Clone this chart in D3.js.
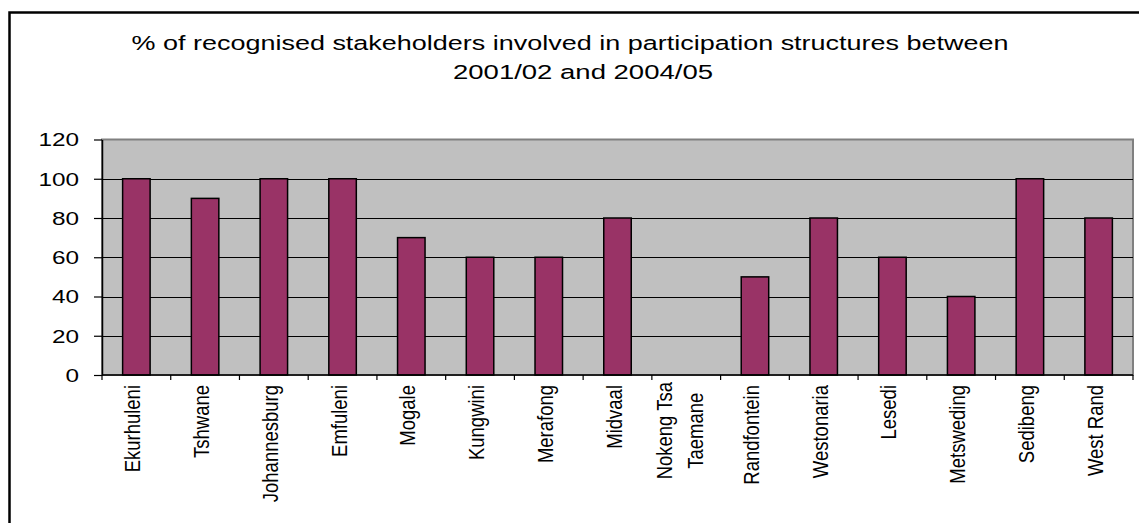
<!DOCTYPE html>
<html>
<head>
<meta charset="utf-8">
<script src="https://cdn.jsdelivr.net/npm/d3@7"></script>
<style>
  html, body { margin: 0; padding: 0; background: #ffffff; }
  svg { display: block; font-family: "Liberation Sans", Arial, sans-serif; }
</style>
</head>
<body>
<svg id="chart" width="1139" height="523"></svg>
<script>
// Municipalities and the share of recognised stakeholders involved (%)
const categories = ["Ekurhuleni", "Tshwane", "Johannesburg", "Emfuleni", "Mogale", "Kungwini",
  "Merafong", "Midvaal", "Nokeng Tsa Taemane", "Randfontein", "Westonaria", "Lesedi",
  "Metsweding", "Sedibeng", "West Rand"];
const values = [100, 90, 100, 100, 70, 60, 60, 80, 0, 50, 80, 60, 40, 100, 80];
const yTicks = [0, 20, 40, 60, 80, 100, 120];
const titleLines = [
  "% of recognised stakeholders involved in participation structures between",
  "2001/02 and 2004/05"
];

const svg = d3.select("#chart");

// Plot area
const plot = { left: 102, right: 1133, top: 139.5, bottom: 375 };

const x = d3.scaleBand()
  .domain(categories)
  .range([plot.left, plot.right])
  .paddingInner(0.6)
  .paddingOuter(0.3);

const y = d3.scaleLinear()
  .domain([0, 120])
  .range([plot.bottom, plot.top]);

// Outer chart frame (runs past the right and bottom edges)
svg.append("rect")
  .attr("x", 9.5).attr("y", 12.5)
  .attr("width", 1160).attr("height", 540)
  .attr("fill", "#ffffff")
  .attr("stroke", "#000000")
  .attr("stroke-width", 2.5);

// Title
const titleLayout = [
  { x: 131.5, y: 49.5, w: 877 },
  { x: 453, y: 78.5, w: 260 }
];
svg.append("g").selectAll("text")
  .data(titleLines)
  .join("text")
  .attr("x", (d, i) => titleLayout[i].x)
  .attr("y", (d, i) => titleLayout[i].y)
  .attr("textLength", (d, i) => titleLayout[i].w)
  .attr("lengthAdjust", "spacingAndGlyphs")
  .attr("font-size", 20.5)
  .attr("fill", "#000000")
  .text(d => d);

// Plot background
svg.append("rect")
  .attr("x", plot.left).attr("y", plot.top)
  .attr("width", plot.right - plot.left)
  .attr("height", plot.bottom - plot.top)
  .attr("fill", "#c0c0c0")
  .attr("stroke", "#808080")
  .attr("stroke-width", 2);

// Horizontal gridlines
svg.append("g").selectAll("line")
  .data(yTicks.filter(v => v > 0 && v < 120))
  .join("line")
  .attr("x1", plot.left).attr("x2", plot.right)
  .attr("y1", d => Math.round(y(d)) + 0.5)
  .attr("y2", d => Math.round(y(d)) + 0.5)
  .attr("stroke", "#000000")
  .attr("stroke-width", 1);

// Bars
svg.append("g").selectAll("rect")
  .data(categories.map((c, i) => ({ c, v: values[i] })).filter(d => d.v > 0))
  .join("rect")
  .attr("x", d => x(d.c))
  .attr("y", d => y(d.v))
  .attr("width", x.bandwidth())
  .attr("height", d => y(0) - y(d.v))
  .attr("fill", "#993366")
  .attr("stroke", "#000000")
  .attr("stroke-width", 1.5);

// Y axis
const yAxis = svg.append("g")
  .attr("transform", `translate(${plot.left},0)`)
  .call(d3.axisLeft(y).tickValues(yTicks).tickSize(8).tickSizeOuter(0));
yAxis.select(".domain").attr("stroke", "#000000").attr("stroke-width", 1.5);
yAxis.selectAll(".tick line").attr("stroke", "#000000").attr("stroke-width", 1.2);
yAxis.selectAll(".tick text")
  .attr("x", 0)
  .attr("dy", "0.36em")
  .attr("font-size", 17.5)
  .attr("font-family", "'Liberation Sans', Arial, sans-serif")
  .attr("fill", "#000000")
  .attr("text-anchor", "end")
  .attr("transform", "translate(-23,0) scale(1.39,1)");

// X axis line and category boundary ticks
const step = x.step();
const xAxis = svg.append("g");
xAxis.append("line")
  .attr("x1", plot.left).attr("x2", plot.right)
  .attr("y1", plot.bottom).attr("y2", plot.bottom)
  .attr("stroke", "#000000").attr("stroke-width", 1.5);
xAxis.selectAll("line.tick")
  .data(d3.range(categories.length + 1))
  .join("line")
  .attr("class", "tick")
  .attr("x1", i => plot.left + i * step)
  .attr("x2", i => plot.left + i * step)
  .attr("y1", plot.bottom)
  .attr("y2", plot.bottom + 5)
  .attr("stroke", "#000000").attr("stroke-width", 1.2);

// Wrap long category names onto several lines
function wrap(label, maxChars) {
  const words = label.split(" ");
  const lines = [];
  let cur = "";
  words.forEach(w => {
    const next = cur ? cur + " " + w : w;
    if (next.length > maxChars && cur) { lines.push(cur); cur = w; }
    else cur = next;
  });
  if (cur) lines.push(cur);
  return lines;
}

// Rotated category labels
const labelFont = 18.5;
const labelTop = 385;
const lineGap = 31;
categories.forEach(c => {
  const lines = wrap(c, 12);
  const cx = x(c) + x.bandwidth() / 2;
  const n = lines.length;
  if (n === 1) {
    svg.append("text")
      .attr("transform", `translate(${cx + 4},${labelTop}) scale(1.15,1) rotate(-90)`)
      .attr("text-anchor", "end")
      .attr("font-size", labelFont)
      .attr("fill", "#000000")
      .text(lines[0]);
  } else {
    const texts = lines.map((ln, i) => svg.append("text")
      .attr("text-anchor", "middle")
      .attr("font-size", labelFont)
      .attr("fill", "#000000")
      .text(ln));
    const maxLen = d3.max(texts, t => t.node().getComputedTextLength());
    const mid = labelTop - 3 + maxLen / 2;
    texts.forEach((t, i) => {
      const bx = cx + 1 + (i - (n - 1) / 2) * lineGap;
      t.attr("transform", `translate(${bx},${mid}) scale(1.15,1) rotate(-90)`);
    });
  }
});
</script>
</body>
</html>
